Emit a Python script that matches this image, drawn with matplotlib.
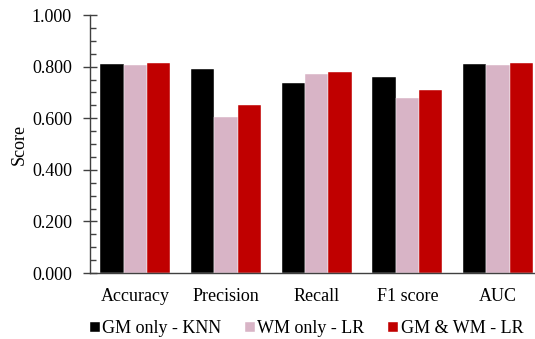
import matplotlib.pyplot as plt
import numpy as np

plt.rcParams['font.family'] = ['Liberation Serif', 'DejaVu Serif']
plt.rcParams['font.size'] = 13

# Data
metrics = ['Accuracy', 'Precision', 'Recall', 'F1 score', 'AUC']
gm_knn = [0.810, 0.791, 0.738, 0.760, 0.810]
wm_lr = [0.806, 0.603, 0.770, 0.677, 0.807]
gm_wm_lr = [0.815, 0.651, 0.778, 0.709, 0.815]

series = [
    ('GM only - KNN', gm_knn, '#000000'),
    ('WM only - LR', wm_lr, '#D8B4C6'),
    ('GM & WM - LR', gm_wm_lr, '#C00000'),
]

fig = plt.figure(figsize=(5.35, 3.39), dpi=100)
ax = fig.add_axes([90 / 535, 1 - 273 / 339, 453.5 / 535, 258 / 339])

x = np.arange(len(metrics))
width = 0.257
for i, (name, vals, color) in enumerate(series):
    ax.bar(x + (i - 1) * width, vals, width, color=color, label=name,
           edgecolor='white', linewidth=0.3)

ax.set_xlim(-0.5, 4.5)
ax.set_ylim(0, 1.0)
ax.set_xticks(x)
ax.set_xticklabels(metrics)
ax.set_yticks(np.arange(0, 1.01, 0.2))
ax.set_yticklabels(['%.3f' % v for v in np.arange(0, 1.01, 0.2)])
ax.set_yticks(np.arange(0, 1.01, 0.05), minor=True)
ax.tick_params(axis='y', which='major', direction='inout', length=10, width=1,
               color='#404040', pad=8)
ax.tick_params(axis='y', which='minor', direction='in', length=4, width=1,
               color='#404040')
ax.tick_params(axis='x', length=0, pad=11)
ax.set_ylabel('Score', labelpad=3)

for s in ['top', 'right']:
    ax.spines[s].set_visible(False)
for s in ['left', 'bottom']:
    ax.spines[s].set_color('#404040')
    ax.spines[s].set_linewidth(1)

fig.legend(loc='center', ncol=3, frameon=False, bbox_to_anchor=(0.573, 0.03),
           handlelength=0.55, handleheight=0.55, handletextpad=0.15,
           columnspacing=1.3)

fig.savefig('out.png', dpi=100)
